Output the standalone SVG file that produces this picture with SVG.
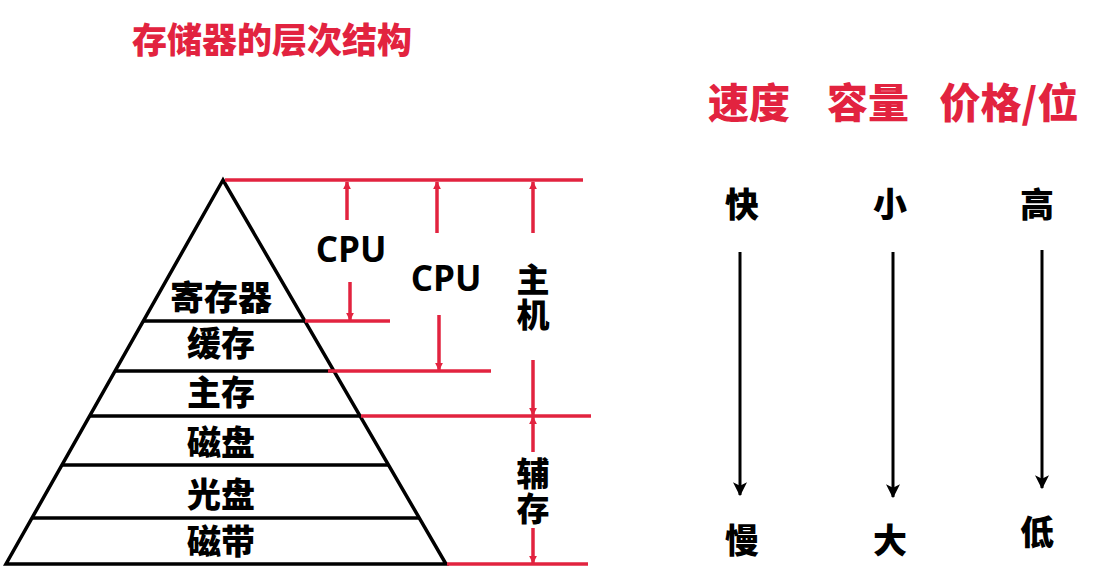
<svg xmlns="http://www.w3.org/2000/svg" width="1112" height="583" viewBox="0 0 1112 583">
<style>
.red{stroke:#E2233F;stroke-width:3.5;fill:none}
.blk{stroke:#000;stroke-width:3.5;fill:none}
.cjk{font-family:"Noto Sans CJK SC","Noto Sans",sans-serif;font-weight:900;text-anchor:middle;dominant-baseline:central}
.lbl{font-size:34px;fill:#000}
.vt{font-family:"Noto Sans CJK SC","Noto Sans",sans-serif;font-weight:900;font-size:33px;fill:#000;writing-mode:vertical-rl;text-anchor:middle;letter-spacing:2px}
.rt{fill:#E2233F}
.cpu{font-family:"Open Sans","Liberation Sans",sans-serif;font-weight:bold;font-size:35px;fill:#000;text-anchor:middle}
</style>
<defs>
<marker id="ra" viewBox="0 0 10 10" refX="9" refY="5" markerWidth="8" markerHeight="8" markerUnits="userSpaceOnUse" orient="auto">
<path d="M0,0 L10,5 L0,10 Z" fill="#E2233F"/>
</marker>
<marker id="ba" viewBox="0 0 12 12" refX="11" refY="6" markerWidth="14" markerHeight="14" markerUnits="userSpaceOnUse" orient="auto">
<path d="M0,0 L12,6 L0,12 L3,6 Z" fill="#000"/>
</marker>
</defs>
<text id="title" class="cjk rt" x="272" y="37" font-size="35">存储器的层次结构</text>
<g id="headers">
<text class="cjk rt" x="749" y="100" font-size="41">速度</text>
<text class="cjk rt" x="868" y="100" font-size="41">容量</text>
<text class="cjk rt" x="1009" y="100" font-size="41">价格/位</text>
</g>
<g id="pyramid">
<polygon class="blk" points="223,180 6,564 446,564" stroke-linejoin="miter"/>
<line class="blk" x1="143" y1="321" x2="305" y2="321"/>
<line class="blk" x1="115" y1="371" x2="334" y2="371"/>
<line class="blk" x1="89" y1="416" x2="360" y2="416"/>
<line class="blk" x1="62" y1="465" x2="389" y2="465"/>
<line class="blk" x1="32" y1="518" x2="420" y2="518"/>
</g>
<g id="layer-register"><text class="cjk lbl" x="221" y="295">寄存器</text></g>
<g id="layer-cache"><text class="cjk lbl" x="221" y="341">缓存</text></g>
<g id="layer-main"><text class="cjk lbl" x="221" y="390">主存</text></g>
<g id="layer-disk"><text class="cjk lbl" x="221" y="440">磁盘</text></g>
<g id="layer-optical"><text class="cjk lbl" x="221" y="492">光盘</text></g>
<g id="layer-tape"><text class="cjk lbl" x="221" y="539">磁带</text></g>
<g id="guides">
<line class="red" x1="225" y1="180" x2="583" y2="180"/>
<line class="red" x1="305" y1="321" x2="390" y2="321"/>
<line class="red" x1="328" y1="371" x2="491" y2="371"/>
<line class="red" x1="361" y1="416" x2="591" y2="416"/>
<line class="red" x1="447" y1="564" x2="588" y2="564"/>
</g>
<g id="range-labels">
<text class="cpu" x="351" y="262">CPU</text>
<text class="cpu" x="446" y="291">CPU</text>
<text class="vt" x="533" y="298">主机</text>
<text class="vt" x="533" y="492">辅存</text>
</g>
<g id="right-labels">
<text class="cjk lbl" x="742" y="202" font-size="35">快</text>
<text class="cjk lbl" x="890" y="202" font-size="35">小</text>
<text class="cjk lbl" x="1037" y="202" font-size="35">高</text>
<text class="cjk lbl" x="742" y="538" font-size="35">慢</text>
<text class="cjk lbl" x="890" y="538" font-size="35">大</text>
<text class="cjk lbl" x="1037" y="530" font-size="35">低</text>
</g>
<g id="connectors">
<line class="red" x1="347" y1="220" x2="347" y2="182" marker-end="url(#ra)"/>
<line class="red" x1="350" y1="282" x2="350" y2="320" marker-end="url(#ra)"/>
<line class="red" x1="437" y1="233" x2="437" y2="182" marker-end="url(#ra)"/>
<line class="red" x1="439" y1="315" x2="439" y2="370" marker-end="url(#ra)"/>
<line class="red" x1="533" y1="233" x2="533" y2="182" marker-end="url(#ra)"/>
<line class="red" x1="533" y1="360" x2="533" y2="415" marker-end="url(#ra)"/>
<line class="red" x1="533" y1="452" x2="533" y2="417" marker-end="url(#ra)"/>
<line class="red" x1="533" y1="528" x2="533" y2="563" marker-end="url(#ra)"/>
<line stroke="#000" stroke-width="3" x1="740" y1="252" x2="740" y2="495" marker-end="url(#ba)"/>
<line stroke="#000" stroke-width="3" x1="893" y1="252" x2="893" y2="497" marker-end="url(#ba)"/>
<line stroke="#000" stroke-width="3" x1="1042" y1="250" x2="1042" y2="488" marker-end="url(#ba)"/>
</g>
</svg>
